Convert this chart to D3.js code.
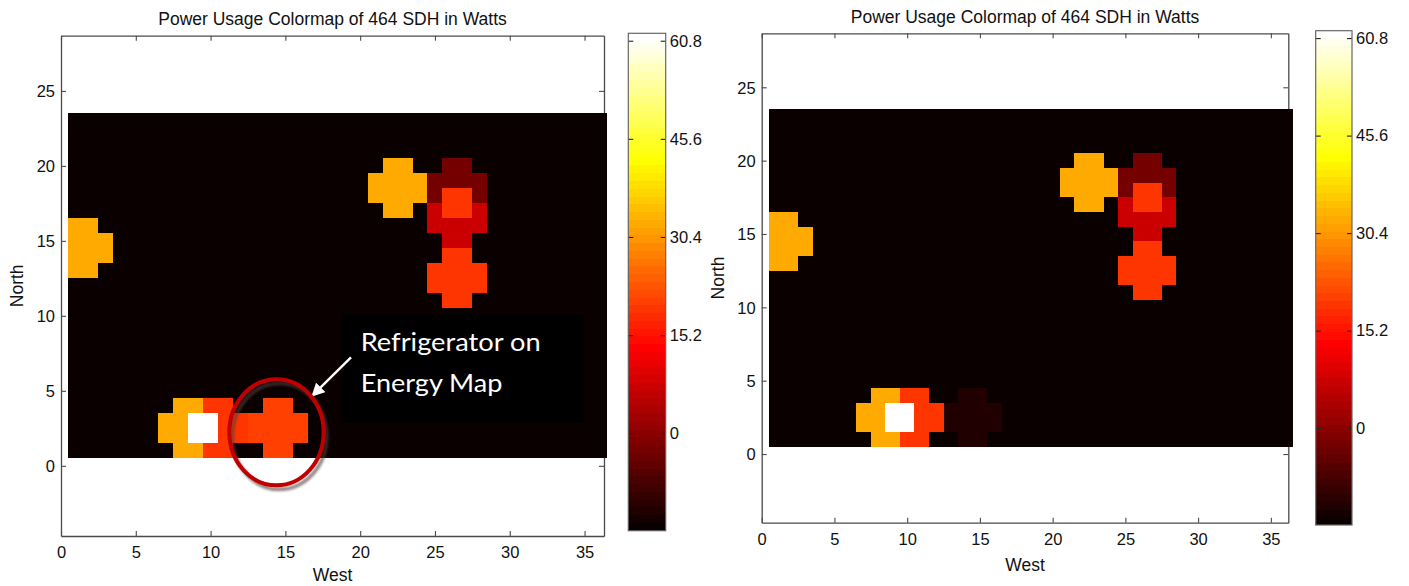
<!DOCTYPE html>
<html>
<head>
<meta charset="utf-8">
<script src="https://cdn.jsdelivr.net/npm/d3@7"></script>
<style>
  html, body { margin: 0; padding: 0; background: #fff; }
  svg { display: block; font-family: "Liberation Sans", Arial, Helvetica, sans-serif; }
</style>
</head>
<body>
<svg id="chart" width="1409" height="586"></svg>
<script>
// ---------------- data ----------------
const chartTitle = "Power Usage Colormap of 464 SDH in Watts";
const xLabel = "West";
const yLabel = "North";
const xTicks = [0, 5, 10, 15, 20, 25, 30, 35];
const yTicks = [0, 5, 10, 15, 20, 25];
const colorTicks = [0, 15.2, 30.4, 45.6, 60.8];
const colorTickLabels = ["0", "15.2", "30.4", "45.6", "60.8"];
const colorMin = -15.1;
const colorMax = 61.95;
const yExtent = [-4.68, 28.68];

// cell codes and the wattage value each code stands for
const levelCodes  = [".",   "d",   "m",  "c", "r",  "f",  "o",  "w"];
const levelValues = [-14.5, -12.0, -2.5, 7.2, 19.2, 20.6, 32.4, 61.5];

// grid rows, top row (North = 23) first, columns West = 1..36 (groups of 6)
const leftGrid = [
  "...... ...... ...... ...... ...... ......",
  "...... ...... ...... ...... ...... ......",
  "...... ...... ...... ...... ...... ......",
  "...... ...... ...... ...oo. .mm... ......",
  "...... ...... ...... ..oooo mmmm.. ......",
  "...... ...... ...... ..oooo mrrm.. ......",
  "...... ...... ...... ...oo. crrc.. ......",
  "oo.... ...... ...... ...... cccc.. ......",
  "ooo... ...... ...... ...... .cc... ......",
  "ooo... ...... ...... ...... .rr... ......",
  "oo.... ...... ...... ...... rrrr.. ......",
  "...... ...... ...... ...... rrrr.. ......",
  "...... ...... ...... ...... .rr... ......",
  "...... ...... ...... ...... ...... ......",
  "...... ...... ...... ...... ...... ......",
  "...... ...... ...... ...... ...... ......",
  "...... ...... ...... ...... ...... ......",
  "...... ...... ...... ...... ...... ......",
  "...... ...... ...... ...... ...... ......",
  "...... .oorr. .ff... ...... ...... ......",
  "...... oowwrr ffff.. ...... ...... ......",
  "...... oowwrr ffff.. ...... ...... ......",
  "...... .oorr. .ff... ...... ...... ......"
];
const rightGrid = [
  "...... ...... ...... ...... ...... ......",
  "...... ...... ...... ...... ...... ......",
  "...... ...... ...... ...... ...... ......",
  "...... ...... ...... ...oo. .mm... ......",
  "...... ...... ...... ..oooo mmmm.. ......",
  "...... ...... ...... ..oooo mrrm.. ......",
  "...... ...... ...... ...oo. crrc.. ......",
  "oo.... ...... ...... ...... cccc.. ......",
  "ooo... ...... ...... ...... .cc... ......",
  "ooo... ...... ...... ...... .rr... ......",
  "oo.... ...... ...... ...... rrrr.. ......",
  "...... ...... ...... ...... rrrr.. ......",
  "...... ...... ...... ...... .rr... ......",
  "...... ...... ...... ...... ...... ......",
  "...... ...... ...... ...... ...... ......",
  "...... ...... ...... ...... ...... ......",
  "...... ...... ...... ...... ...... ......",
  "...... ...... ...... ...... ...... ......",
  "...... ...... ...... ...... ...... ......",
  "...... .oorr. .dd... ...... ...... ......",
  "...... oowwrr dddd.. ...... ...... ......",
  "...... oowwrr dddd.. ...... ...... ......",
  "...... .oorr. .dd... ...... ...... ......"
];
const annotationLines = ["Refrigerator on", "Energy Map"];

// ---------------- colour map (MATLAB "hot", 64 levels) ----------------
const hot64 = d3.range(64).map(i => {
  const k = i + 1;
  const r = Math.min(1, k / 24);
  const g = Math.max(0, Math.min(1, (k - 24) / 24));
  const b = Math.max(0, Math.min(1, (k - 48) / 16));
  return d3.rgb(Math.round(r * 255), Math.round(g * 255), Math.round(b * 255)).formatHex();
});
const color = d3.scaleQuantize().domain([colorMin, colorMax]).range(hot64);
const valueOf = {};
levelCodes.forEach((c, i) => valueOf[c] = levelValues[i]);

function parseGrid(grid) {
  const nRows = grid.length;
  const cells = [];
  grid.forEach((line, i) => {
    const s = line.replace(/ /g, "");
    s.split("").forEach((ch, j) => {
      cells.push({ col: j + 1, row: nRows - i, value: valueOf[ch] });
    });
  });
  return cells;
}

// ---------------- layout ----------------
const panels = [
  { grid: leftGrid,  x0: 61,    x1: 604,    y0: 35.7, y1: 536,   xMax: 36.3,
    cb: { x0: 628.3, x1: 665.7, y0: 33.3, y1: 530.7 }, titleY: 25, xLabelY: 581, annotate: true },
  { grid: rightGrid, x0: 761.7, x1: 1288.3, y0: 33.3, y1: 522.7, xMax: 36.2,
    cb: { x0: 1315.7, x1: 1352, y0: 30.7, y1: 525 }, titleY: 22.7, xLabelY: 570.5, annotate: false }
];

const svg = d3.select("#chart");
const defs = svg.append("defs");
defs.append("filter").attr("id", "blur").attr("x", "-20%").attr("y", "-20%")
  .attr("width", "140%").attr("height", "140%")
  .append("feGaussianBlur").attr("stdDeviation", 1.2);
defs.append("marker").attr("id", "arrowhead")
  .attr("viewBox", "0 0 10 10").attr("refX", 9).attr("refY", 5)
  .attr("markerWidth", 5.5).attr("markerHeight", 5.5).attr("markerUnits", "strokeWidth")
  .attr("orient", "auto")
  .append("path").attr("d", "M0,0 L10,5 L0,10 z").attr("fill", "#fff");

const axisColor = "#4a4a4a";
const tickFont = "16.5px";

panels.forEach(p => {
  const x = d3.scaleLinear().domain([0, p.xMax]).range([p.x0, p.x1]);
  const y = d3.scaleLinear().domain(yExtent).range([p.y1, p.y0]);
  const g = svg.append("g");

  // axes (ticks pointing inward on all four sides)
  const bottom = g.append("g").attr("transform", `translate(0,${p.y1})`)
    .call(d3.axisBottom(x).tickValues(xTicks).tickSizeInner(-5).tickSizeOuter(0).tickPadding(10));
  const top = g.append("g").attr("transform", `translate(0,${p.y0})`)
    .call(d3.axisTop(x).tickValues(xTicks).tickSizeInner(-5).tickSizeOuter(0).tickFormat(""));
  const left = g.append("g").attr("transform", `translate(${p.x0},0)`)
    .call(d3.axisLeft(y).tickValues(yTicks).tickSizeInner(-5).tickSizeOuter(0).tickPadding(6));
  const right = g.append("g").attr("transform", `translate(${p.x1},0)`)
    .call(d3.axisRight(y).tickValues(yTicks).tickSizeInner(-5).tickSizeOuter(0).tickFormat(""));
  [bottom, top, left, right].forEach(a => {
    a.select(".domain").attr("stroke", axisColor).attr("stroke-width", 1.3);
    a.selectAll(".tick line").attr("stroke", axisColor).attr("stroke-width", 1.1);
    a.selectAll("text").attr("font-size", tickFont).attr("fill", "#111")
      .attr("font-family", "'Liberation Sans', Arial, sans-serif");
  });
  bottom.selectAll(".tick text").attr("dy", null).attr("y", 22);
  left.selectAll(".tick text").attr("dy", "0.35em");

  // image cells
  const cells = parseGrid(p.grid);
  g.append("g").attr("shape-rendering", "crispEdges")
    .selectAll("rect").data(cells).join("rect")
    .attr("x", d => x(d.col - 0.5))
    .attr("y", d => y(d.row + 0.5))
    .attr("width", d => x(d.col + 0.5) - x(d.col - 0.5))
    .attr("height", d => y(d.row - 0.5) - y(d.row + 0.5))
    .attr("fill", d => color(d.value));

  // title and axis labels
  g.append("text").attr("x", (p.x0 + p.x1) / 2).attr("y", p.titleY)
    .attr("text-anchor", "middle").attr("font-size", "17.5px").attr("fill", "#111")
    .text(chartTitle);
  g.append("text").attr("x", (p.x0 + p.x1) / 2).attr("y", p.xLabelY)
    .attr("text-anchor", "middle").attr("font-size", "17.5px").attr("fill", "#111")
    .text(xLabel);
  g.append("text")
    .attr("transform", `translate(${p.x0 - 44.3},${(p.y0 + p.y1) / 2}) rotate(-90)`)
    .attr("text-anchor", "middle").attr("dy", "0.36em")
    .attr("font-size", "17.5px").attr("fill", "#111")
    .text(yLabel);

  // colour bar
  const cy = d3.scaleLinear().domain([colorMin, colorMax]).range([p.cb.y1, p.cb.y0]);
  const step = (colorMax - colorMin) / hot64.length;
  g.append("g").attr("shape-rendering", "crispEdges")
    .selectAll("rect").data(hot64).join("rect")
    .attr("x", p.cb.x0)
    .attr("width", p.cb.x1 - p.cb.x0)
    .attr("y", (c, i) => cy(colorMin + (i + 1) * step))
    .attr("height", (c, i) => cy(colorMin + i * step) - cy(colorMin + (i + 1) * step))
    .attr("fill", c => c);
  const cbRight = g.append("g").attr("transform", `translate(${p.cb.x1},0)`)
    .call(d3.axisRight(cy).tickValues(colorTicks).tickSizeInner(-5).tickSizeOuter(0)
      .tickPadding(4).tickFormat((d, i) => colorTickLabels[i]));
  const cbLeft = g.append("g").attr("transform", `translate(${p.cb.x0},0)`)
    .call(d3.axisLeft(cy).tickValues(colorTicks).tickSizeInner(-5).tickSizeOuter(0).tickFormat(""));
  [cbRight, cbLeft].forEach(a => {
    a.select(".domain").attr("stroke", "none");
    a.selectAll(".tick line").attr("stroke", "#222").attr("stroke-width", 1.1);
    a.selectAll("text").attr("font-size", tickFont).attr("fill", "#111")
      .attr("font-family", "'Liberation Sans', Arial, sans-serif");
  });
  g.append("rect").attr("x", p.cb.x0).attr("y", p.cb.y0)
    .attr("width", p.cb.x1 - p.cb.x0).attr("height", p.cb.y1 - p.cb.y0)
    .attr("fill", "none").attr("stroke", "#666").attr("stroke-width", 1.2);

  // annotation (left map only)
  if (p.annotate) {
    const a = g.append("g");
    a.append("rect").attr("x", 341).attr("y", 314).attr("width", 243).attr("height", 109)
      .attr("fill", "#000");
    a.selectAll("text.note").data(annotationLines).join("text").attr("class", "note")
      .attr("x", 360.7).attr("y", (d, i) => i === 0 ? 350.7 : 392.3)
      .attr("fill", "#fff").attr("font-family", "Lato, 'Open Sans', sans-serif")
      .attr("font-size", "25px")
      .attr("textLength", (d, i) => i === 0 ? 180 : 141.7)
      .attr("lengthAdjust", "spacingAndGlyphs")
      .text(d => d);
    a.append("line").attr("x1", 351).attr("y1", 357.3).attr("x2", 312.3).attr("y2", 395.7)
      .attr("stroke", "#fff").attr("stroke-width", 2.4).attr("marker-end", "url(#arrowhead)");
    a.append("ellipse").attr("cx", 279.5).attr("cy", 436.3).attr("rx", 47.2).attr("ry", 53)
      .attr("fill", "none").attr("stroke", "rgba(85,60,60,0.6)").attr("stroke-width", 4)
      .attr("filter", "url(#blur)");
    a.append("ellipse").attr("cx", 276.5).attr("cy", 432.3).attr("rx", 47.2).attr("ry", 53)
      .attr("fill", "none").attr("stroke", "#c00000").attr("stroke-width", 4);
  }
});
</script>
</body>
</html>
